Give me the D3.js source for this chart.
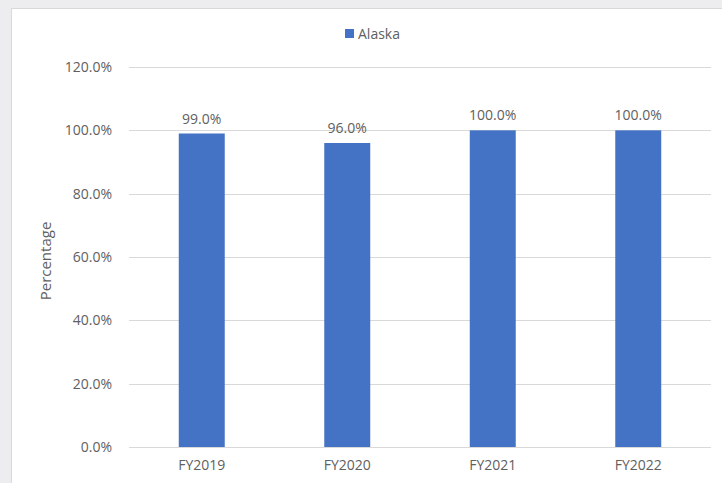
<!DOCTYPE html>
<html>
<head>
<meta charset="utf-8">
<script src="https://cdn.jsdelivr.net/npm/d3@7"></script>
<style>
  body { margin: 0; background: #ededf0; }
  #viz svg { display: block; }
  text { font-family: "Open Sans", "Noto Sans", sans-serif; fill: #606060; }
</style>
</head>
<body>
<div id="viz"></div>
<script>
var categories = ['FY2019', 'FY2020', 'FY2021', 'FY2022'];
var alaska = [99.0, 96.0, 100.0, 100.0];
var yTicks = [0, 20, 40, 60, 80, 100, 120];
var seriesName = 'Alaska';

var W = 722, H = 483,
    margin = {top: 67, right: 11, bottom: 36, left: 129},
    height = 447 - margin.top,
    width = 711 - margin.left;

var svg = d3.select('#viz').append('svg')
  .attr('width', W)
  .attr('height', H);

// chart area (white panel with a light border, like the Excel frame)
svg.append('rect')
  .attr('x', 11.5).attr('y', 8.5)
  .attr('width', W).attr('height', H)
  .attr('fill', '#ffffff')
  .attr('stroke', '#d9d9d9');

var g = svg.append('g')
  .attr('transform', 'translate(' + margin.left + ',' + margin.top + ')');

var yScale = d3.scaleLinear()
  .domain([0, 120])
  .range([height, 0]);

var xScale = d3.scaleBand()
  .domain(categories)
  .range([0, width])
  .paddingInner(0.684)
  .paddingOuter(0.342);

// gridlines
g.append('g')
  .selectAll('line').data(yTicks)
  .enter().append('line')
    .attr('x1', 0).attr('x2', width)
    .attr('y1', function(d) { return Math.round(yScale(d)) + 0.5; })
    .attr('y2', function(d) { return Math.round(yScale(d)) + 0.5; })
    .attr('stroke', '#d9d9d9')
    .attr('stroke-width', 1);

// y axis labels
var yAxis = d3.axisLeft(yScale)
  .tickValues(yTicks)
  .tickFormat(function(d) { return d.toFixed(1) + '%'; })
  .tickSize(0)
  .tickPadding(17);

var yGuide = g.append('g').call(yAxis);
yGuide.select('.domain').remove();
yGuide.selectAll('text')
  .style('font-size', '14px')
  .attr('fill', '#606060');

// x axis labels
var xAxis = d3.axisBottom(xScale)
  .tickSize(0)
  .tickPadding(13);

var xGuide = g.append('g')
  .attr('transform', 'translate(0,' + height + ')')
  .call(xAxis);
xGuide.select('.domain').remove();
xGuide.selectAll('text')
  .style('font-size', '14px')
  .attr('fill', '#606060');

// bars
g.selectAll('rect.bar').data(alaska)
  .enter().append('rect')
    .attr('class', 'bar')
    .attr('fill', '#4472c4')
    .attr('x', function(d, i) { return xScale(categories[i]); })
    .attr('width', xScale.bandwidth())
    .attr('y', function(d) { return yScale(d); })
    .attr('height', function(d) { return height - yScale(d); });

// data labels
g.selectAll('text.lbl').data(alaska)
  .enter().append('text')
    .attr('class', 'lbl')
    .attr('x', function(d, i) { return xScale(categories[i]) + xScale.bandwidth() / 2; })
    .attr('y', function(d) { return yScale(d) - 10; })
    .attr('text-anchor', 'middle')
    .style('font-size', '14px')
    .text(function(d) { return d.toFixed(1) + '%'; });

// y axis title
svg.append('text')
  .attr('transform', 'translate(51,261) rotate(-90)')
  .attr('text-anchor', 'middle')
  .style('font-size', '15px')
  .text('Percentage');

// legend
var legend = svg.append('g');
legend.append('rect')
  .attr('x', 345).attr('y', 29)
  .attr('width', 9).attr('height', 9)
  .attr('fill', '#4472c4');
legend.append('text')
  .attr('x', 358).attr('y', 38.5)
  .style('font-size', '14px')
  .text(seriesName);
</script>
</body>
</html>
